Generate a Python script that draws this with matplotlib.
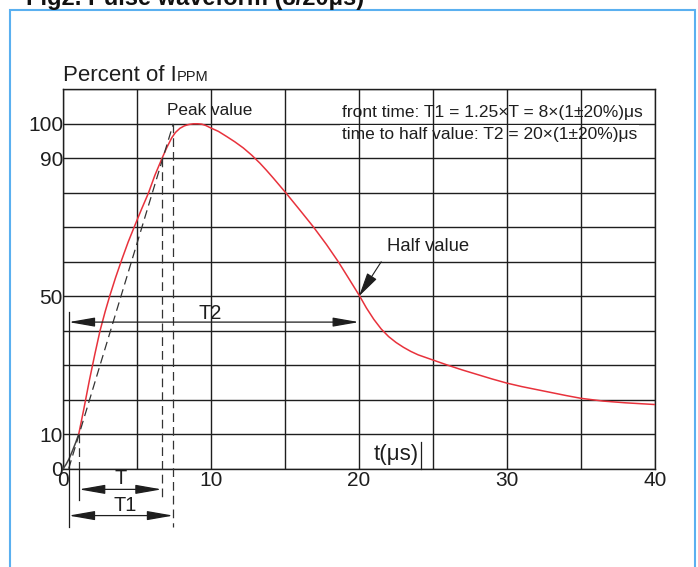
import numpy as np
import matplotlib
matplotlib.use("Agg")
import matplotlib.pyplot as plt
from matplotlib import font_manager
from matplotlib.patches import Rectangle

# 8/20us pulse (t in us, current in % of IPPM)
t_rise = [0, 0.2, 0.4, 0.6, 0.85, 1.06]
i_rise = [0, 1.2, 2.8, 4.8, 7.5, 10]
t_wave = [1.06, 1.4, 1.78, 2.15, 2.5, 2.85, 3.15, 3.55, 3.96, 4.4, 4.86, 5.3,
          5.77, 6.2, 6.67, 7.0, 7.34, 7.6, 7.9, 8.2, 8.5, 8.8, 9.1, 9.37,
          9.65, 9.93, 10.5, 11.06, 11.6, 12.18, 12.75, 13.3, 13.75, 14.2,
          15.07, 16.0, 16.9, 17.8, 18.6, 19.3, 20.05, 20.5, 21.0, 21.5, 22.0,
          22.5, 23.0, 23.5, 24.0, 25.0, 26.0, 27.0, 28.0, 29.0, 30.0, 31.0,
          32.5, 34.0, 35.0, 36.5, 38.0, 40.0]
i_wave = [10, 17.2, 25.6, 33.2, 40.0, 45.6, 50, 55.4, 60.5, 65.7, 70.6, 75.2,
          79.9, 85.0, 89.8, 93.0, 95.9, 97.5, 98.7, 99.4, 99.8, 100, 100, 99.9,
          99.5, 98.9, 97.8, 96.3, 94.8, 93.0, 90.9, 88.6, 86.5, 84.3,
          79.9, 75, 70.2, 65, 60, 55.2, 50, 46.6, 43.3, 40.5, 38.3,
          36.6, 35.2, 34.0, 33.0, 31.5, 30.0, 28.6, 27.3, 26.0, 24.8, 23.8,
          22.5, 21.2, 20.4, 19.6, 19.1, 18.6]

# construction points of the front time
t_o1 = 0.38      # virtual origin
t_10 = 1.07      # 10 % point
t_90 = 6.67      # 90 % point
t_t1 = 7.45      # end of T1
t_half = 20.0    # half value

x_ticks = [0, 10, 20, 30, 40]
y_ticks = [0, 10, 50, 90, 100]
x_grid = np.arange(0, 41, 5)
y_grid = np.arange(0, 111, 10)

names = {f.name for f in font_manager.fontManager.ttflist}
narrow = "Liberation Sans Narrow" in names
nfam = ["Liberation Sans Narrow", "Liberation Sans"] if narrow else ["Liberation Sans"]
nscale = 1.0 if narrow else 0.82

plt.rcParams["font.family"] = ["Liberation Sans", "DejaVu Sans"]

INK = "#1e1e1e"
RED = "#e8323c"

fig = plt.figure(figsize=(6.98, 5.67), dpi=100)
ax = fig.add_axes([0.0903, 0.1734, 0.8481, 0.6691])
ax.set_xlim(0, 40)
ax.set_ylim(0, 110)

# grid: horizontal below the text boxes, vertical above
ax.hlines(y_grid, 0, 40, color=INK, lw=1.0, zorder=2)
ax.vlines(x_grid, 0, 110, color=INK, lw=1.0, zorder=4)
for s in ax.spines.values():
    s.set_color(INK)
    s.set_linewidth(1.0)

ax.set_xticks(x_ticks)
ax.set_yticks(y_ticks)
ax.tick_params(length=0, labelsize=15, colors=INK)
ax.tick_params(axis="y", pad=0)
ax.tick_params(axis="x", pad=2)

# waveform
ax.plot(t_rise, i_rise, color="#444444", lw=1.1, zorder=5)
ax.plot(t_wave, i_wave, color=RED, lw=1.1, zorder=5)

# front line through 10 % and 90 %
dash = dict(color="#333333", lw=0.9, dashes=(7, 4), clip_on=False, zorder=5)
ax.plot([t_o1, t_t1], [0, 100], **dash)
ax.plot([t_90, t_90], [90, -9.1], **dash)
ax.plot([t_t1, t_t1], [100, -16.8], **dash)
ax.plot([t_10, t_10], [10, 0], **dash)

solid = dict(color=INK, lw=0.9, clip_on=False, zorder=5)
ax.plot([t_10, t_10], [0, -9.1], **solid)
ax.plot([t_o1, t_o1], [45.5, -16.8], **solid)
ax.plot([24.17, 24.17], [7.8, 0], **solid)

arr = dict(arrowstyle="<|-|>,head_length=1.6,head_width=0.28", color=INK,
           lw=0.9, mutation_scale=10, shrinkA=0, shrinkB=0)
ax.annotate("", xy=(t_10, -6), xytext=(t_90, -6), arrowprops=arr,
            annotation_clip=False)
ax.annotate("", xy=(t_o1, -13.6), xytext=(t_t1, -13.6), arrowprops=arr,
            annotation_clip=False)
ax.annotate("", xy=(t_o1, 42.5), xytext=(t_half, 42.5), arrowprops=arr,
            annotation_clip=False, zorder=6)
ax.annotate("", xy=(t_half, 50), xytext=(21.5, 60),
            arrowprops=dict(arrowstyle="-|>,head_length=1.5,head_width=0.35",
                            color=INK, lw=0.8, mutation_scale=10,
                            shrinkA=0, shrinkB=0), zorder=6)

# labels
ax.text(3.9, -4.4, "T", ha="center", va="baseline", fontsize=14.4,
        color=INK, clip_on=False)
ax.text(4.19, -12.3, "T1", ha="center", va="baseline", fontsize=14.4,
        color=INK, clip_on=False)
ax.text(9.93, 43.3, "T2", ha="center", va="baseline", fontsize=14.4,
        color=INK, zorder=6)
ax.text(21.9, 63.0, "Half value", ha="left", va="baseline", fontsize=13.3,
        color=INK, zorder=6)
ax.text(20.97, 2.5, "t(μs)", ha="left", va="baseline", fontsize=16,
        color=INK, zorder=6)
ax.text(9.9, 102.6, "Peak value", ha="center", va="baseline",
        fontsize=15 * nscale, family=nfam, color=INK, zorder=6)

box = dict(facecolor="white", edgecolor="none", pad=1.5)
ax.text(18.83, 102.1, "front time: T1 = 1.25×T = 8×(1±20%)μs", ha="left",
        va="baseline", fontsize=15.3 * nscale, family=nfam, color=INK,
        bbox=box, zorder=3)
ax.text(18.83, 95.5, "time to half value: T2 = 20×(1±20%)μs", ha="left",
        va="baseline", fontsize=15.3 * nscale, family=nfam, color=INK,
        bbox=box, zorder=3)

lab = ax.text(0.02, 112.3, "Percent of I", ha="left", va="baseline",
              fontsize=16, color=INK, clip_on=False)
ax.annotate("PPM", xy=(1, 112.3), xycoords=(lab, "data"), ha="left",
            va="baseline", fontsize=10.5, color=INK, annotation_clip=False)

# page frame and cut-off caption
fig.patches.append(Rectangle((10 / 698, -0.1), 685 / 698, 1.1 - 9.5 / 567,
                             transform=fig.transFigure, fill=False,
                             edgecolor="#5ab0f0", lw=1.5))
fig.text(26 / 698, 1 - 5 / 567, "Fig2. Pulse waveform (8/20μs)", ha="left",
         va="baseline", fontsize=17, weight="bold", color="#111111")

fig.savefig("out.png", dpi=100)
